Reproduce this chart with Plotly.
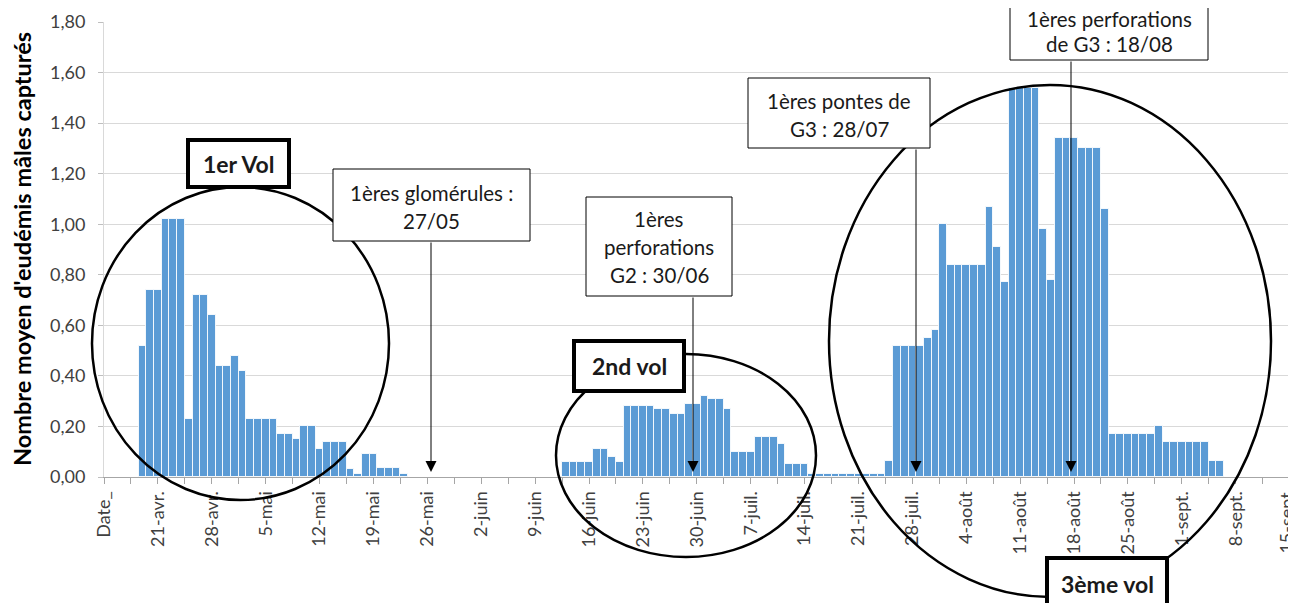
import plotly.graph_objects as go
import pandas as pd

# ---------------- data ----------------
origin = pd.Timestamp("2014-04-14")  # slot of the "Date_" category

vol1_start = "2014-04-19"
vol1 = [0.52, 0.74, 0.74, 1.02, 1.02, 1.02, 0.23, 0.72, 0.72, 0.64, 0.44, 0.44,
        0.48, 0.42, 0.23, 0.23, 0.23, 0.23, 0.17, 0.17, 0.15, 0.20, 0.20, 0.11,
        0.14, 0.14, 0.14, 0.03, 0.01, 0.09, 0.09, 0.035, 0.035, 0.035, 0.01]

vol2_start = "2014-06-13"
vol2 = [0.06, 0.06, 0.06, 0.06, 0.11, 0.11, 0.08, 0.06, 0.28, 0.28, 0.28, 0.28,
        0.27, 0.27, 0.25, 0.25, 0.29, 0.29, 0.32, 0.31, 0.31, 0.27, 0.10, 0.10,
        0.10, 0.16, 0.16, 0.16, 0.13, 0.05, 0.05, 0.05]

inter_start = "2014-07-15"
interlude = [0.01] * 10

vol3_start = "2014-07-25"
vol3 = [0.065, 0.52, 0.52, 0.52, 0.52, 0.55, 0.58, 1.00, 0.84, 0.84, 0.84, 0.84,
        0.84, 1.07, 0.91, 0.77, 1.54, 1.54, 1.54, 1.54, 0.98, 0.78, 1.34, 1.34,
        1.34, 1.30, 1.30, 1.30, 1.06, 0.17, 0.17, 0.17, 0.17, 0.17, 0.17, 0.20,
        0.14, 0.14, 0.14, 0.14, 0.14, 0.14, 0.065, 0.065]

tick_labels = ["Date_", "21-avr.", "28-avr.", "5-mai", "12-mai", "19-mai", "26-mai",
               "2-juin", "9-juin", "16-juin", "23-juin", "30-juin", "7-juil.",
               "14-juil.", "21-juil.", "28-juil.", "4-août", "11-août", "18-août",
               "25-août", "1-sept.", "8-sept.", "15-sept."]

y_title = "Nombre moyen d'eudémis mâles capturés"

# ---------------- build x positions (day offsets) ----------------
xs, ys = [], []
for start, vals in [(vol1_start, vol1), (vol2_start, vol2),
                    (inter_start, interlude), (vol3_start, vol3)]:
    d0 = (pd.Timestamp(start) - origin).days
    for i, v in enumerate(vals):
        xs.append(d0 + i)
        ys.append(v)

n_ticks = len(tick_labels)
tickvals = [7 * i for i in range(n_ticks)]
minor_vals = [7 * i + 3.5 for i in range(n_ticks - 1)]
# last label sits on the right edge: drawn as an annotation nudged inside the page
ticktext = tick_labels[:-1] + [""]

fig = go.Figure()
fig.add_trace(go.Bar(x=xs, y=ys, width=1,
                     marker=dict(color="#5B9BD5",
                                 line=dict(color="rgba(255,255,255,0.85)", width=1))))

# ---------------- layout ----------------
# page body has an 8px default margin: the figure is offset by OFF in the window
OFF = 8
WIN_W, WIN_H = 1296, 603
W, H = WIN_W - OFF, WIN_H - OFF
# plot area in window pixels
PL, PR, PT, PB = 104, 1290, 22, 477


def px(x):
    return (x - PL) / (PR - PL)


def py(y):
    return (PB - y) / (PB - PT)


fig.update_layout(
    width=W, height=H,
    margin=dict(l=PL - OFF, r=WIN_W - PR, t=PT - OFF, b=WIN_H - PB, pad=0,
                autoexpand=False),
    plot_bgcolor="white", paper_bgcolor="white",
    bargap=0, showlegend=False, separators=", ",
    font=dict(family="Lato, Calibri, sans-serif", color="#404040", size=18),
)
fig.update_xaxes(
    range=[0, tickvals[-1] + 0.05], tickmode="array", tickvals=tickvals, ticktext=ticktext,
    tickangle=-90, ticks="outside", ticklen=6, tickcolor="#A6A6A6",
    showline=True, linecolor="#A6A6A6", linewidth=1, ticklabeloverflow="allow",
    automargin=False,
    showgrid=False, zeroline=False, tickfont=dict(size=18, color="#404040"),
    minor=dict(tickmode="array", tickvals=minor_vals, ticks="outside", ticklen=6,
               tickcolor="#A6A6A6", showgrid=False),
)
fig.update_yaxes(
    range=[0, 1.8], tick0=0, dtick=0.2, tickformat=".2f",
    showgrid=True, gridcolor="#D9D9D9", gridwidth=1, automargin=False,
    showline=True, linecolor="#D9D9D9", ticks="outside", ticklen=5,
    tickcolor="#BFBFBF", zeroline=False, ticklabelstandoff=9,
    tickfont=dict(size=18, color="#404040"),
)

shapes = []
annotations = []

# last x tick label
annotations.append(dict(text=tick_labels[-1], xref="x", yref="paper",
                        x=tickvals[-1], y=py(486), xshift=-4, textangle=-90,
                        showarrow=False, xanchor="center", yanchor="top",
                        font=dict(size=18, color="#404040")))

# y-axis title
annotations.append(dict(text="<b>" + y_title + "</b>", xref="paper", yref="paper",
                        x=px(22), y=py(249), textangle=-90, showarrow=False,
                        font=dict(size=23.5, color="#000000"),
                        xanchor="center", yanchor="middle"))

# ellipses (pixel bounds -> paper)
for (x0, y0, x1, y1) in [(92, 187, 389, 500), (556, 354, 816, 557), (829, 85, 1271, 597)]:
    shapes.append(dict(type="circle", xref="paper", yref="paper",
                       x0=px(x0), x1=px(x1), y0=py(y1), y1=py(y0),
                       line=dict(color="black", width=2.5), layer="above"))

# arrows (tip on axis, tail at box bottom)
for (xa, ytail) in [(431, 241), (693, 296), (916, 148), (1071, 60)]:
    tip = 472
    annotations.append(dict(text="", xref="paper", yref="paper", x=px(xa), y=py(tip),
                            axref="pixel", ayref="pixel", ax=0, ay=-(tip - ytail),
                            showarrow=True, arrowhead=2, arrowsize=2.2, arrowwidth=1,
                            arrowcolor="black", standoff=0))

# boxes: pixel bounds, border width, lines (text, y centre), bold
boxes = [
    ((188, 140, 289, 187), 4, [("1er Vol", 164)], True),
    ((333, 169, 530, 241), 1, [("1ères glomérules :", 193), ("27/05", 221)], False),
    ((586, 197, 732, 296), 1, [("1ères", 219), ("perforations", 247), ("G2 : 30/06", 275)], False),
    ((574, 341, 684, 391), 4, [("2nd vol", 366)], True),
    ((748, 78, 930, 148), 1, [("1ères pontes de", 101), ("G3 : 28/07", 129)], False),
    ((1010, -12, 1208, 60), 1, [("1ères perforations", 19), ("de G3 : 18/08", 44)], False),
    ((1047, 558, 1167, 612), 4, [("3ème vol", 584)], True),
]
for (x0, y0, x1, y1), lw, lines, bold in boxes:
    shapes.append(dict(type="rect", xref="paper", yref="paper",
                       x0=px(x0), x1=px(x1), y0=py(y1), y1=py(y0),
                       line=dict(color="black", width=lw), fillcolor="white",
                       layer="above"))
    for txt, yc in lines:
        annotations.append(dict(text=("<b>%s</b>" % txt) if bold else txt,
                                xref="paper", yref="paper",
                                x=px((x0 + x1) / 2), y=py(yc), showarrow=False,
                                xanchor="center", yanchor="middle",
                                font=dict(size=23 if bold else 20.5, color="#1a1a1a")))

fig.update_layout(shapes=shapes, annotations=annotations)
fig.write_html("out.html")
